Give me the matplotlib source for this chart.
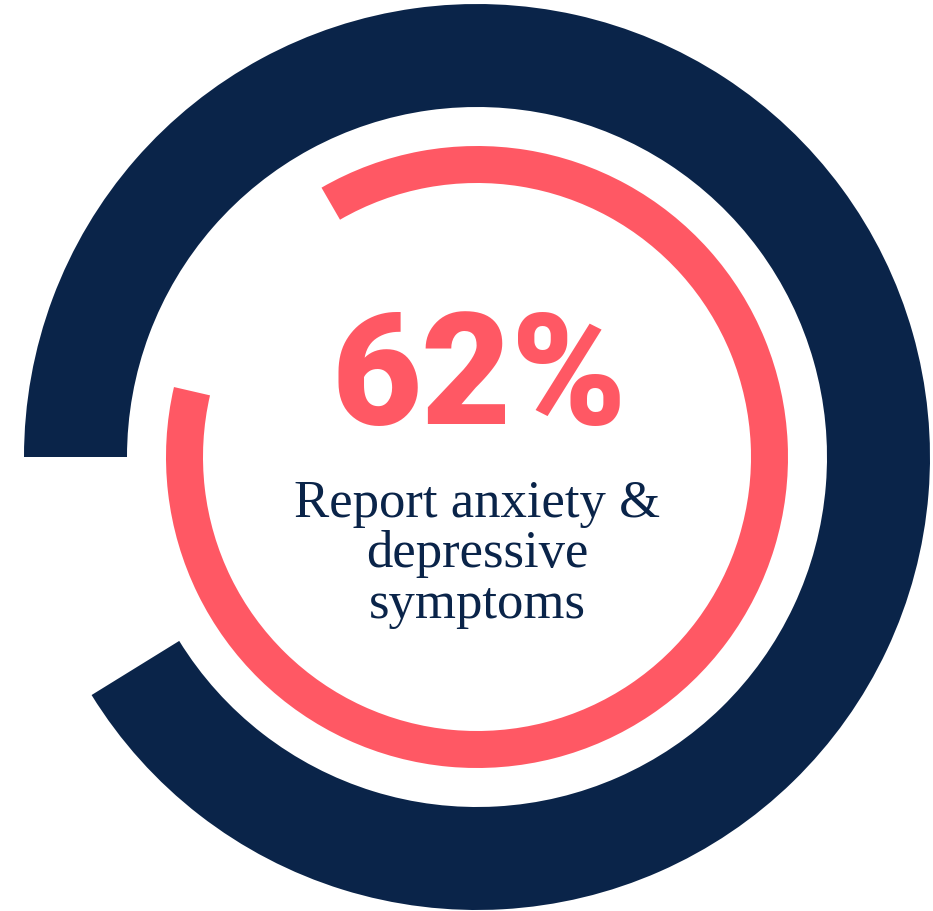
import matplotlib
matplotlib.use("Agg")
import matplotlib.pyplot as plt

# ring data: arc length and gap in degrees, start angle (pie goes clockwise)
outer_arc = [328.3, 31.7]
outer_start = 180
inner_arc = [313.0, 47.0]
inner_start = 120

big_number = "62%"
caption_lines = ["Report anxiety &", "depressive", "symptoms"]

navy = "#0a2449"
coral = "#ff5864"

W, H = 933, 911
fig = plt.figure(figsize=(W / 100, H / 100), dpi=100)
ax = fig.add_axes([0, 0, 1, 1])

cx, cy = 477, H - 457

ax.pie(outer_arc, startangle=outer_start, counterclock=False,
       colors=[navy, "none"], radius=453, center=(cx, cy),
       wedgeprops=dict(width=103, linewidth=0))
ax.pie(inner_arc, startangle=inner_start, counterclock=False,
       colors=[coral, "none"], radius=311, center=(cx, cy),
       wedgeprops=dict(width=37, linewidth=0))

ax.set_xlim(0, W)
ax.set_ylim(0, H)
ax.set_aspect("equal")
ax.axis("off")

ax.text(479, H - 424, big_number, ha="center", va="baseline",
        fontsize=112, fontweight=900, family="Roboto", color=coral)

baselines = [517, 567, 618]
for line, b in zip(caption_lines, baselines):
    ax.text(477, H - b, line, ha="center", va="baseline",
            fontsize=38, family="Liberation Serif", color=navy)

fig.savefig("out.png", dpi=100, facecolor="white")
